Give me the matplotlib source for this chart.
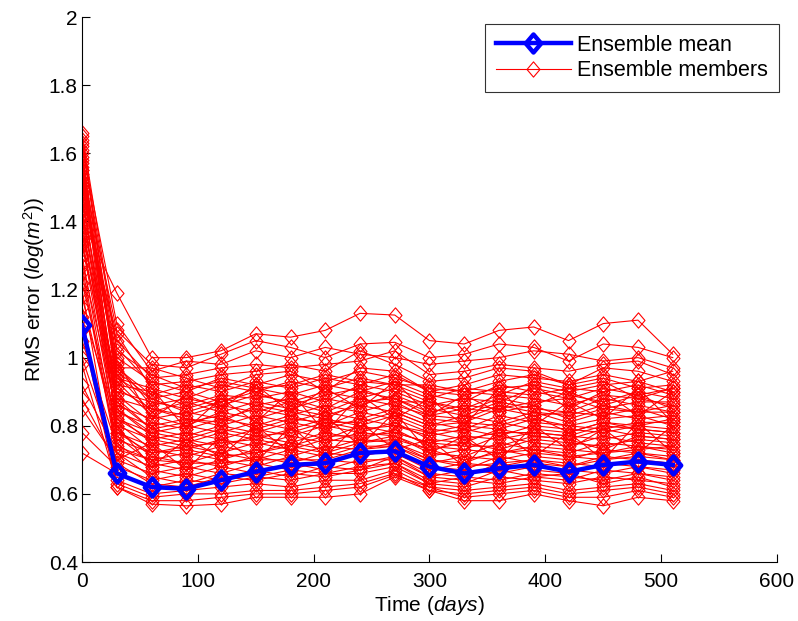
import matplotlib
matplotlib.use("Agg")
import matplotlib.pyplot as plt
import numpy as np
from matplotlib.path import Path

plt.rcParams["font.family"] = ["Liberation Sans", "DejaVu Sans"]
plt.rcParams["mathtext.fontset"] = "custom"
plt.rcParams["mathtext.rm"] = "Liberation Sans"
plt.rcParams["mathtext.it"] = "Liberation Sans:italic"

# ---------------------------------------------------------------------------
# Data
# ---------------------------------------------------------------------------

time_days = [0, 30, 60, 90, 120, 150, 180, 210, 240, 270,
             300, 330, 360, 390, 420, 450, 480, 510]

ensemble_mean = [1.095, 0.66, 0.62, 0.615, 0.64, 0.665, 0.685, 0.69, 0.72,
                 0.725, 0.68, 0.66, 0.675, 0.685, 0.665, 0.685, 0.695, 0.685]

ensemble_members = [
    [1.40, 1.19, 1.00, 1.00, 1.02, 1.07, 1.06, 1.08, 1.13, 1.125, 1.05, 1.04, 1.08, 1.09, 1.05, 1.10, 1.11, 1.01],
    [1.55, 1.08, 0.98, 0.97, 1.01, 1.05, 1.03, 1.00, 1.04, 1.045, 1.00, 1.01, 1.04, 1.03, 0.99, 1.04, 1.03, 1.00],
    [1.62, 1.10, 0.96, 0.99, 0.98, 1.02, 1.00, 1.03, 1.01, 1.00, 0.98, 0.99, 1.00, 1.02, 1.01, 0.99, 1.00, 0.97],
    [1.48, 1.05, 0.94, 0.95, 0.97, 0.98, 0.97, 0.98, 0.99, 1.02, 0.95, 0.96, 0.98, 0.97, 0.96, 0.98, 0.99, 0.95],
    [1.66, 1.03, 0.92, 0.93, 0.95, 0.96, 0.98, 0.96, 1.02, 0.98, 0.93, 0.94, 0.97, 0.96, 0.92, 0.97, 0.96, 0.93],
    [1.58, 1.00, 0.93, 0.90, 0.94, 0.92, 0.95, 0.93, 0.96, 0.94, 0.91, 0.90, 0.93, 0.95, 0.92, 0.94, 0.91, 0.92],
    [1.52, 0.97, 0.89, 0.92, 0.90, 0.93, 0.91, 0.94, 0.92, 0.95, 0.90, 0.89, 0.91, 0.92, 0.90, 0.92, 0.93, 0.90],
    [1.45, 1.07, 0.91, 0.88, 0.92, 0.90, 0.93, 0.91, 0.94, 0.92, 0.88, 0.91, 0.90, 0.89, 0.91, 0.90, 0.92, 0.89],
    [1.36, 0.94, 0.88, 0.90, 0.87, 0.91, 0.89, 0.92, 0.90, 0.93, 0.89, 0.87, 0.92, 0.90, 0.88, 0.91, 0.89, 0.91],
    [1.60, 0.92, 0.90, 0.86, 0.89, 0.88, 0.90, 0.87, 0.92, 0.90, 0.86, 0.88, 0.87, 0.91, 0.89, 0.87, 0.90, 0.88],
    [1.50, 0.98, 0.86, 0.88, 0.86, 0.89, 0.87, 0.90, 0.88, 0.91, 0.87, 0.85, 0.89, 0.88, 0.86, 0.89, 0.88, 0.86],
    [1.42, 0.90, 0.87, 0.85, 0.88, 0.86, 0.88, 0.85, 0.90, 0.88, 0.84, 0.86, 0.85, 0.87, 0.88, 0.85, 0.87, 0.87],
    [1.55, 0.95, 0.84, 0.87, 0.84, 0.87, 0.85, 0.88, 0.86, 0.89, 0.85, 0.83, 0.87, 0.85, 0.84, 0.88, 0.86, 0.84],
    [1.33, 0.88, 0.85, 0.83, 0.86, 0.84, 0.87, 0.84, 0.88, 0.86, 0.83, 0.85, 0.84, 0.86, 0.82, 0.85, 0.84, 0.86],
    [1.47, 0.86, 0.82, 0.84, 0.82, 0.85, 0.83, 0.86, 0.84, 0.87, 0.82, 0.81, 0.85, 0.83, 0.84, 0.83, 0.85, 0.82],
    [1.64, 0.93, 0.83, 0.80, 0.84, 0.82, 0.85, 0.83, 0.86, 0.84, 0.80, 0.83, 0.81, 0.84, 0.81, 0.84, 0.82, 0.83],
    [1.28, 0.84, 0.80, 0.82, 0.80, 0.83, 0.81, 0.84, 0.82, 0.85, 0.81, 0.79, 0.83, 0.81, 0.80, 0.82, 0.83, 0.80],
    [1.53, 0.89, 0.81, 0.79, 0.82, 0.80, 0.83, 0.80, 0.84, 0.82, 0.78, 0.80, 0.79, 0.82, 0.80, 0.79, 0.81, 0.81],
    [1.39, 0.82, 0.78, 0.80, 0.78, 0.81, 0.79, 0.82, 0.80, 0.83, 0.79, 0.78, 0.81, 0.79, 0.78, 0.81, 0.79, 0.78],
    [1.57, 0.87, 0.79, 0.77, 0.80, 0.78, 0.81, 0.79, 0.82, 0.80, 0.77, 0.79, 0.77, 0.80, 0.79, 0.78, 0.80, 0.79],
    [1.22, 0.80, 0.76, 0.78, 0.76, 0.79, 0.77, 0.80, 0.78, 0.81, 0.76, 0.75, 0.79, 0.77, 0.76, 0.79, 0.77, 0.76],
    [1.44, 0.85, 0.77, 0.75, 0.78, 0.76, 0.79, 0.76, 0.80, 0.78, 0.75, 0.77, 0.76, 0.78, 0.77, 0.76, 0.78, 0.77],
    [1.61, 0.78, 0.74, 0.76, 0.74, 0.77, 0.75, 0.78, 0.76, 0.79, 0.74, 0.73, 0.77, 0.75, 0.74, 0.77, 0.75, 0.74],
    [1.35, 0.83, 0.75, 0.73, 0.76, 0.74, 0.77, 0.75, 0.78, 0.77, 0.73, 0.75, 0.73, 0.76, 0.75, 0.74, 0.76, 0.75],
    [1.18, 0.76, 0.72, 0.74, 0.72, 0.75, 0.73, 0.76, 0.75, 0.77, 0.72, 0.71, 0.75, 0.73, 0.72, 0.75, 0.74, 0.72],
    [1.49, 0.81, 0.73, 0.71, 0.74, 0.72, 0.75, 0.73, 0.76, 0.75, 0.71, 0.73, 0.72, 0.74, 0.73, 0.72, 0.74, 0.73],
    [1.05, 0.74, 0.70, 0.72, 0.70, 0.73, 0.71, 0.74, 0.73, 0.75, 0.70, 0.69, 0.73, 0.71, 0.70, 0.73, 0.72, 0.70],
    [1.56, 0.79, 0.71, 0.69, 0.72, 0.70, 0.73, 0.71, 0.74, 0.74, 0.69, 0.71, 0.70, 0.72, 0.71, 0.70, 0.72, 0.71],
    [0.92, 0.72, 0.68, 0.70, 0.68, 0.71, 0.69, 0.72, 0.71, 0.73, 0.68, 0.67, 0.71, 0.69, 0.68, 0.71, 0.70, 0.68],
    [1.41, 0.77, 0.69, 0.67, 0.70, 0.68, 0.71, 0.69, 0.72, 0.72, 0.67, 0.69, 0.68, 0.70, 0.69, 0.68, 0.70, 0.69],
    [0.85, 0.70, 0.66, 0.68, 0.66, 0.69, 0.67, 0.70, 0.69, 0.71, 0.66, 0.65, 0.69, 0.67, 0.66, 0.69, 0.68, 0.66],
    [1.30, 0.75, 0.67, 0.65, 0.68, 0.66, 0.69, 0.67, 0.70, 0.70, 0.65, 0.67, 0.66, 0.68, 0.67, 0.66, 0.68, 0.67],
    [0.78, 0.68, 0.64, 0.66, 0.64, 0.67, 0.65, 0.68, 0.67, 0.69, 0.64, 0.63, 0.67, 0.65, 0.64, 0.67, 0.66, 0.64],
    [1.25, 0.72, 0.65, 0.63, 0.66, 0.65, 0.67, 0.66, 0.68, 0.69, 0.63, 0.65, 0.64, 0.66, 0.65, 0.64, 0.66, 0.65],
    [0.72, 0.66, 0.62, 0.64, 0.63, 0.65, 0.64, 0.66, 0.66, 0.68, 0.63, 0.62, 0.65, 0.64, 0.63, 0.65, 0.64, 0.63],
    [1.12, 0.64, 0.60, 0.61, 0.62, 0.63, 0.62, 0.64, 0.64, 0.67, 0.62, 0.61, 0.62, 0.63, 0.61, 0.62, 0.63, 0.61],
    [0.98, 0.63, 0.59, 0.60, 0.60, 0.61, 0.61, 0.62, 0.63, 0.66, 0.61, 0.60, 0.61, 0.62, 0.60, 0.61, 0.62, 0.60],
    [1.20, 0.62, 0.58, 0.58, 0.59, 0.60, 0.60, 0.61, 0.62, 0.655, 0.62, 0.59, 0.60, 0.61, 0.59, 0.59, 0.61, 0.59],
    [1.08, 0.62, 0.57, 0.565, 0.57, 0.59, 0.59, 0.59, 0.60, 0.65, 0.61, 0.58, 0.58, 0.60, 0.58, 0.565, 0.59, 0.58],
    [1.63, 1.02, 0.95, 0.91, 0.93, 0.91, 0.92, 0.95, 0.93, 0.92, 0.92, 0.90, 0.89, 0.93, 0.91, 0.93, 0.88, 0.91],
    [1.51, 0.96, 0.88, 0.84, 0.87, 0.90, 0.86, 0.89, 0.91, 0.87, 0.87, 0.84, 0.88, 0.86, 0.90, 0.86, 0.89, 0.85],
    [1.46, 0.91, 0.85, 0.82, 0.81, 0.86, 0.84, 0.82, 0.87, 0.88, 0.83, 0.82, 0.86, 0.84, 0.83, 0.86, 0.84, 0.84],
    [1.37, 0.88, 0.79, 0.81, 0.83, 0.79, 0.82, 0.81, 0.81, 0.84, 0.80, 0.81, 0.80, 0.83, 0.78, 0.81, 0.80, 0.82],
    [1.59, 0.85, 0.78, 0.76, 0.79, 0.77, 0.78, 0.81, 0.79, 0.80, 0.78, 0.76, 0.78, 0.78, 0.77, 0.80, 0.79, 0.78],
    [1.43, 0.82, 0.76, 0.74, 0.75, 0.76, 0.74, 0.77, 0.77, 0.78, 0.75, 0.74, 0.74, 0.77, 0.76, 0.73, 0.77, 0.76],
    [1.34, 0.78, 0.72, 0.73, 0.71, 0.72, 0.74, 0.72, 0.75, 0.76, 0.73, 0.70, 0.72, 0.73, 0.71, 0.72, 0.73, 0.74],
    [1.27, 0.73, 0.70, 0.69, 0.69, 0.70, 0.70, 0.70, 0.73, 0.74, 0.70, 0.68, 0.69, 0.70, 0.68, 0.70, 0.71, 0.70],
    [1.54, 0.99, 0.82, 0.89, 0.85, 0.92, 0.84, 0.91, 0.85, 0.93, 0.83, 0.89, 0.84, 0.92, 0.85, 0.90, 0.83, 0.90],
    [1.65, 0.94, 0.91, 0.79, 0.88, 0.81, 0.90, 0.78, 0.89, 0.82, 0.88, 0.80, 0.91, 0.80, 0.87, 0.82, 0.91, 0.81],
    [1.15, 0.80, 0.68, 0.76, 0.71, 0.80, 0.72, 0.83, 0.74, 0.84, 0.72, 0.77, 0.70, 0.80, 0.73, 0.79, 0.72, 0.80],
    [1.00, 0.70, 0.75, 0.67, 0.77, 0.69, 0.80, 0.71, 0.81, 0.73, 0.76, 0.68, 0.79, 0.71, 0.78, 0.70, 0.81, 0.72],
    [1.52, 0.97, 0.97, 0.94, 0.91, 0.95, 0.96, 0.90, 0.97, 0.96, 0.90, 0.92, 0.95, 0.94, 0.93, 0.95, 0.93, 0.96],
    [0.88, 0.69, 0.63, 0.62, 0.65, 0.64, 0.66, 0.65, 0.67, 0.71, 0.65, 0.64, 0.63, 0.65, 0.66, 0.63, 0.65, 0.62],
]

# MATLAB-like diamond: a touch taller than wide
diamond = Path([(0, 1), (0.85, 0), (0, -1), (-0.85, 0), (0, 1)],
               [Path.MOVETO, Path.LINETO, Path.LINETO, Path.LINETO, Path.CLOSEPOLY])

# ---------------------------------------------------------------------------
# Plot
# ---------------------------------------------------------------------------

fig = plt.figure(figsize=(7.98, 6.21), dpi=100)
ax = fig.add_axes([82 / 798, 1 - 562 / 621, (777 - 82) / 798, (562 - 17) / 621])

for member_index, member in enumerate(ensemble_members):
    ax.plot(
        time_days, member,
        color="red", linewidth=0.8,
        marker=diamond, markersize=11, markerfacecolor="none",
        markeredgecolor="red", markeredgewidth=0.8,
        label="Ensemble members" if member_index == 0 else None,
        zorder=2,
    )

ax.plot(
    time_days, ensemble_mean,
    color="blue", linewidth=3.2,
    marker=diamond, markersize=13, markerfacecolor="none",
    markeredgecolor="blue", markeredgewidth=3.2,
    label="Ensemble mean", zorder=3,
)

ax.set_xlim(0, 600)
ax.set_ylim(0.4, 2.0)
ax.set_xticks(np.arange(0, 601, 100))
ax.set_yticks(np.arange(0.4, 2.01, 0.2))
ax.set_yticklabels(["0.4", "0.6", "0.8", "1", "1.2", "1.4", "1.6", "1.8", "2"])

ax.spines["top"].set_visible(False)
ax.spines["right"].set_visible(False)
ax.tick_params(direction="in", length=6, labelsize=15, width=0.8, pad=3)
ax.tick_params(axis="x", pad=7)

ax.set_xlabel(r"Time ($\mathit{days}$)", fontsize=15, labelpad=2.5)
ax.set_ylabel(r"RMS error ($\mathit{log(m^2)}$)", fontsize=15, labelpad=1)

handles, labels = ax.get_legend_handles_labels()
legend = ax.legend(
    handles[::-1], labels[::-1],
    loc="upper right", bbox_to_anchor=((779 - 82) / 695, (562 - 24) / 545),
    borderaxespad=0,
    fontsize=15.5, frameon=True, fancybox=False,
    edgecolor="black", handlelength=3.5, handletextpad=0.3,
    borderpad=0.5, labelspacing=0.2,
)
legend.get_frame().set_linewidth(0.8)

fig.savefig("out.png", dpi=100)
